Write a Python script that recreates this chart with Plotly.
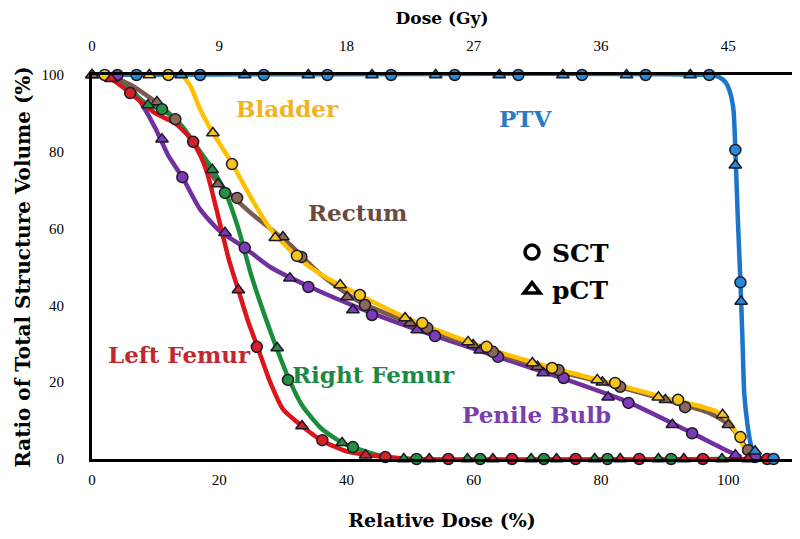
import plotly.graph_objects as go

# ---------------- data ----------------
rel_dose_ticks = [0, 20, 40, 60, 80, 100]
gy_ticks = [0, 9, 18, 27, 36, 45]
vol_ticks = [0, 20, 40, 60, 80, 100]

# PTV
ptv_sct_x = [7, 17, 27, 37, 47, 57, 67, 77, 87, 97, 101.1, 101.9, 107.1]
ptv_sct_y = [100, 100, 100, 100, 100, 100, 100, 100, 100, 100, 80.5, 46, 0]
ptv_pct_x = [14, 24, 34, 44, 54, 64, 74, 84, 94, 101.1, 102.0, 104.2]
ptv_pct_y = [100, 100, 100, 100, 100, 100, 100, 100, 100, 76.5, 41, 2]
ptv_line_x = [0, 97, 98.5, 99.6, 100.3, 100.8, 101.1, 101.5, 101.9, 102.2, 102.5, 103.0, 103.5, 104.2, 105.5]
ptv_line_y = [100, 100, 99.5, 98, 95.3, 91, 80.5, 62, 46, 32, 17, 9, 4, 0.5, 0]

# Bladder
bla_sct_x = [2, 12, 22, 32.2, 42.1, 51.9, 62, 72.3, 82.2, 92.1, 101.9]
bla_sct_y = [100, 100, 76.8, 52.9, 42.7, 35.4, 29.2, 23.7, 19.8, 15.4, 5.7]
bla_pct_x = [9, 19, 28.8, 39, 49.2, 59.1, 69.2, 79.4, 89, 99.1]
bla_pct_y = [100, 84.9, 57.6, 45.3, 36.7, 30.5, 25, 20.6, 16.1, 11.5]
bla_line_x = [0, 14, 15.5, 17, 19, 22, 25, 28, 32, 36, 42, 50, 60, 70, 80, 90, 98, 100, 101.5, 102.6, 103.5]
bla_line_y = [100, 100, 97, 91, 84.9, 77, 68, 60, 53, 48, 42.7, 36.3, 30, 24.8, 20.4, 16, 12.5, 10, 6, 2.5, 0.5]

# Rectum
rec_sct_x = [13.1, 22.8, 32.9, 42.9, 52.7, 63, 73.3, 83, 93.2, 103.1]
rec_sct_y = [88.5, 68, 52.6, 40.1, 34.1, 27.9, 23.2, 18.8, 13.5, 2.3]
rec_pct_x = [0, 10.2, 19.8, 30, 40.1, 50, 59.9, 70, 80.2, 90.1, 100]
rec_pct_y = [100, 93, 71.6, 57.8, 42.2, 35.4, 29.7, 24, 20, 15.4, 8.9]
rec_line_x = [0, 3, 6, 10, 13, 16, 19, 22, 25, 28, 31, 36, 42, 50, 60, 70, 80, 90, 97, 100, 102, 103.5]
rec_line_y = [100, 99.5, 97.5, 93, 88.5, 82, 73.5, 68.5, 64, 60, 56, 48, 41, 35.4, 29.5, 24.2, 20, 15.5, 12, 9, 5, 0.5]

# Left Femur
lf_sct_x = [6, 15.9, 25.9, 36.2, 46.1, 56, 66, 76, 86, 96, 106.1]
lf_sct_y = [95.3, 82.6, 29.2, 4.9, 0.5, 0, 0, 0, 0, 0, 0]
lf_pct_x = [3, 23, 33, 43, 53, 63, 73, 83, 93, 103.1]
lf_pct_y = [99, 44, 8.6, 1, 0, 0, 0, 0, 0, 0]
lf_line_x = [0, 3, 6, 10, 13, 16, 18, 20, 21.5, 23, 24.5, 26, 28, 30, 33, 36, 40, 46, 50, 106]
lf_line_y = [100, 99, 95.3, 90, 87.5, 82.6, 75, 62, 52, 44, 36, 29.2, 20, 13, 8.6, 4.9, 2, 0.5, 0, 0]

# Right Femur
rf_sct_x = [11, 20.9, 30.8, 41, 51, 61, 71, 81, 91]
rf_sct_y = [91.1, 69.3, 20.6, 3.1, 0, 0, 0, 0, 0]
rf_pct_x = [8.8, 18.9, 29.1, 39.3, 49, 59, 69, 79, 89, 99]
rf_pct_y = [92.2, 75.3, 28.9, 4.2, 0, 0, 0, 0, 0, 0]
rf_line_x = [0, 3, 6, 8.8, 11, 14, 17, 19, 21, 23, 25, 27, 29, 31, 33, 36, 39.3, 41, 45, 50, 99]
rf_line_y = [100, 99, 96, 92.2, 91, 87, 80, 75.3, 69.3, 60, 48, 38, 28.9, 20.6, 14, 8, 4.2, 3.1, 1, 0, 0]

# Penile Bulb
pb_sct_x = [4, 14.2, 24, 34, 44, 53.9, 63.8, 74.1, 84.3, 94.3, 104.2]
pb_sct_y = [100, 73.4, 55, 44.8, 37.5, 32, 26.6, 21.1, 14.6, 6.7, 0.5]
pb_pct_x = [0, 11, 20.9, 31.1, 41, 51.1, 61, 70.9, 81.1, 91.2, 101.1]
pb_pct_y = [100, 83.3, 58.9, 47.1, 38.8, 33.6, 28.3, 22.4, 16.1, 8.9, 1]
pb_line_x = [0, 3, 6, 8, 10, 12, 14.2, 17, 20, 24, 28, 34, 44, 54, 64, 74, 84, 94, 100, 102]
pb_line_y = [100, 100, 97, 92, 86, 79, 73.4, 65, 59.5, 55, 50, 45, 38, 32, 26.5, 21, 15, 7, 2, 0.5]

structures = [
    # name, line colour, marker colour, data
    ("Penile Bulb", "#7030A0", "#7D3CB5", pb_line_x, pb_line_y, pb_sct_x, pb_sct_y, pb_pct_x, pb_pct_y),
    ("Rectum", "#7A5B4E", "#8A6757", rec_line_x, rec_line_y, rec_sct_x, rec_sct_y, rec_pct_x, rec_pct_y),
    ("Bladder", "#FFC000", "#F6C51B", bla_line_x, bla_line_y, bla_sct_x, bla_sct_y, bla_pct_x, bla_pct_y),
    ("Right Femur", "#1A8C3A", "#23913F", rf_line_x, rf_line_y, rf_sct_x, rf_sct_y, rf_pct_x, rf_pct_y),
    ("Left Femur", "#D9161C", "#D52027", lf_line_x, lf_line_y, lf_sct_x, lf_sct_y, lf_pct_x, lf_pct_y),
    ("PTV", "#1C75C8", "#2A88D4", ptv_line_x, ptv_line_y, ptv_sct_x, ptv_sct_y, ptv_pct_x, ptv_pct_y),
]

labels = [
    ("Bladder", 30.7, 91.4, "#F0B323"),
    ("PTV", 68.1, 88.8, "#2B7BC4"),
    ("Rectum", 41.7, 64.3, "#6B4A3E"),
    ("Left Femur", 13.8, 27.1, "#C1272D"),
    ("Right Femur", 44.2, 21.9, "#1B8A44"),
    ("Penile Bulb", 69.8, 11.7, "#7A3EAE"),
]

FONT = "Liberation Serif"
TFONT = "DejaVu Serif"

fig = go.Figure()

for name, lc, mc, lx, ly, sx, sy, px_, py_ in structures:
    fig.add_trace(go.Scatter(x=lx, y=ly, mode="lines", line=dict(color=lc, width=4.5, shape="spline", smoothing=0.6),
                             showlegend=False, hoverinfo="skip", cliponaxis=False))

for name, lc, mc, lx, ly, sx, sy, px_, py_ in structures:
    fig.add_trace(go.Scatter(x=px_, y=py_, mode="markers", showlegend=False, cliponaxis=False,
                             marker=dict(symbol="triangle-up", size=11, color=mc, line=dict(color="#1a1a2a", width=1.5)),
                             name=name + " pCT"))
    fig.add_trace(go.Scatter(x=sx, y=sy, mode="markers", showlegend=False, cliponaxis=False,
                             marker=dict(symbol="circle", size=11, color=mc, line=dict(color="#1a1a2a", width=1.5)),
                             name=name + " SCT"))

# legend entries
fig.add_trace(go.Scatter(x=[None], y=[None], mode="markers", name="<b>SCT</b>", legendgroup="a",
                         marker=dict(symbol="circle-open", size=14, color="black", line=dict(width=3.5))))
fig.add_trace(go.Scatter(x=[None], y=[None], mode="markers", name="<b>pCT</b>", legendgroup="b",
                         marker=dict(symbol="triangle-up-open", size=14, color="black", line=dict(width=3.5))))

# top dose axis carrier
fig.add_trace(go.Scatter(x=[None], y=[None], xaxis="x2", showlegend=False, hoverinfo="skip"))

for text, x, y, c in labels:
    fig.add_annotation(x=x, y=y, text="<b>%s</b>" % text, showarrow=False,
                       font=dict(family=TFONT, size=23, color=c))

XMAX = 110
# page body has an 8px margin: figure occupies (8..800, 8..539)
fig.update_layout(
    width=792, height=531,
    margin=dict(l=84, r=8, t=67, b=80, autoexpand=False),
    paper_bgcolor="white", plot_bgcolor="white",
    font=dict(family=FONT, color="black"),
    xaxis=dict(range=[0, XMAX], tickvals=rel_dose_ticks, showgrid=False, zeroline=False, automargin=False,
               showline=True, linewidth=3, linecolor="black", mirror=True, ticks="",
               ticklabelstandoff=5, tickfont=dict(size=15, family=FONT),
               tickprefix="<b>", ticksuffix="</b>",
               title=dict(text="<b>Relative Dose (%)</b>", font=dict(size=19, family=TFONT), standoff=27)),
    xaxis2=dict(range=[0, XMAX * 0.45], tickvals=gy_ticks, overlaying="x", side="top", automargin=False,
                showgrid=False, zeroline=False, showline=False, ticks="",
                ticklabelstandoff=20, tickfont=dict(size=15, family=FONT),
                tickprefix="<b>", ticksuffix="</b>",
                title=dict(text="<b>Dose (Gy)</b>", font=dict(size=17, family=TFONT), standoff=10)),
    yaxis=dict(range=[0, 100], tickvals=vol_ticks, showgrid=False, zeroline=False, automargin=False,
               showline=True, linewidth=3, linecolor="black", mirror=True, ticks="",
               ticklabelstandoff=22, tickfont=dict(size=15, family=FONT),
               tickprefix="<b>", ticksuffix="</b>",
               title=dict(text="<b>Ratio of Total Structure Volume (%)</b>", font=dict(size=20, family=TFONT), standoff=6)),
    legend=dict(x=0.6, y=0.598, xanchor="left", yanchor="top", bgcolor="rgba(0,0,0,0)",
                font=dict(size=25, family=TFONT, color="black"), tracegroupgap=2, traceorder="grouped"),
    showlegend=True,
)

fig.write_html("out.html")
